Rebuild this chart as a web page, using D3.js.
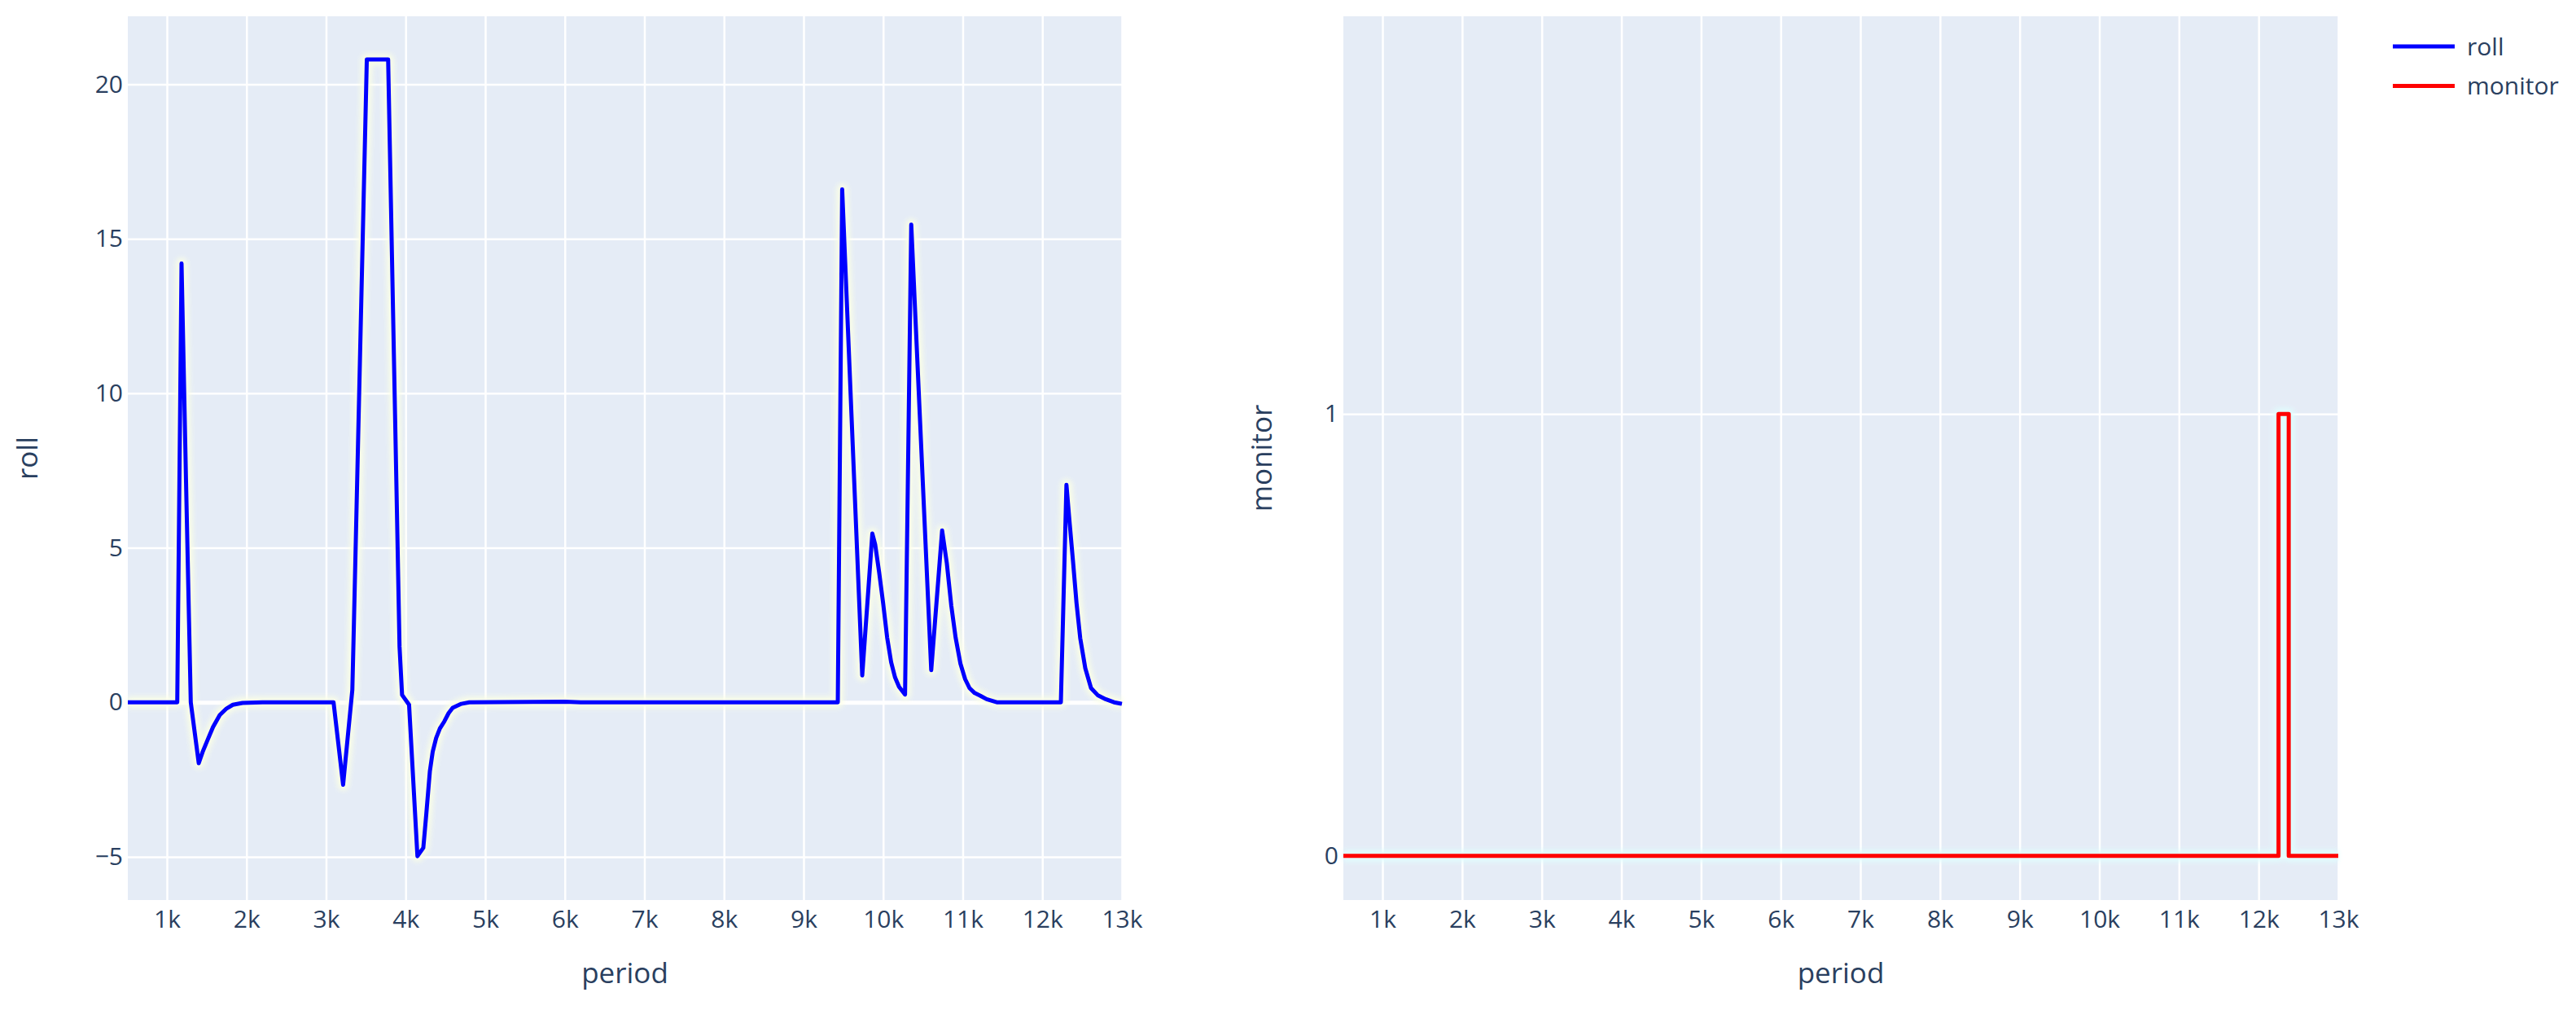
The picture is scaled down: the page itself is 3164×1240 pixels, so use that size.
<!DOCTYPE html>
<html>
<head>
<meta charset="utf-8">
<script src="https://cdn.jsdelivr.net/npm/d3@7"></script>
<style>
  body { margin: 0; background: #fff; }
  text { font-family: "Open Sans", sans-serif; fill: #2a3f5f; }
</style>
</head>
<body>
<div id="chart"></div>
<script>
const rollPeriod = [509, 1130, 1184, 1240, 1300, 1400, 1450, 1503, 1580, 1665, 1750, 1829, 1950, 2200,
  3094, 3214, 3330, 3345, 3512, 3780, 3885, 3923, 3955, 4043, 4148, 4222, 4260, 4304, 4340, 4383, 4430, 4486,
  4540, 4591, 4700, 4800, 6000, 6200,
  9430, 9485, 9737, 9864, 9900, 9950, 10000, 10050, 10100, 10150, 10200, 10275,
  10353, 10604, 10741, 10800, 10856, 10910, 10971, 11030, 11085, 11150, 11222, 11300, 11427,
  12233, 12303, 12340, 12385, 12430, 12476, 12540, 12612, 12700, 12796, 12900, 12980, 13000];
const rollValue = [0, 0, 14.2, 7.2, 0, -1.97, -1.6, -1.27, -0.8, -0.41, -0.2, -0.08, -0.02, 0,
  0, -2.67, 0.4, 2.0, 20.8, 20.8, 6.9, 1.8, 0.24, -0.08, -4.98, -4.71, -3.6, -2.24, -1.6, -1.16, -0.85, -0.62,
  -0.35, -0.18, -0.05, 0, 0.02, 0,
  0, 16.6, 0.87, 5.46, 5.1, 4.2, 3.2, 2.1, 1.3, 0.8, 0.5, 0.25,
  15.46, 1.04, 5.56, 4.5, 3.13, 2.1, 1.25, 0.75, 0.46, 0.3, 0.21, 0.1, 0,
  0, 7.04, 5.9, 4.58, 3.2, 2.08, 1.1, 0.46, 0.22, 0.1, 0, -0.04, -0.05];

const monitorPeriod = [509, 12250, 12378, 13000];
const monitorValue = [0, 1, 0, 0];

const xTicks = [1000, 2000, 3000, 4000, 5000, 6000, 7000, 8000, 9000, 10000, 11000, 12000, 13000];
const rollTicks = [-5, 0, 5, 10, 15, 20];
const monitorTicks = [0, 1];
const rollRange = [-6.4, 22.2];
const monitorRange = [-0.1, 1.9];

const width = 3164;
const height = 1240;
const plotTop = 20, plotBottom = 1105;

const svg = d3.select("#chart").append("svg")
  .attr("width", width)
  .attr("height", height);

const defs = svg.append("defs");
defs.append("filter").attr("id", "glow")
  .attr("x", "-10%").attr("y", "-10%").attr("width", "120%").attr("height", "120%")
  .append("feGaussianBlur").attr("stdDeviation", 3);

const drawPanel = (opts) => {
  const { x0, x1, period, values, yRange, yTicks, color, glowColor, curve, yTitle, yTitleX } = opts;
  const x = d3.scaleLinear().domain(d3.extent(period)).range([x0, x1]);
  const y = d3.scaleLinear().domain(yRange).range([plotBottom, plotTop]);
  const g = svg.append("g");

  g.append("rect")
    .attr("x", x0).attr("y", plotTop)
    .attr("width", x1 - x0).attr("height", plotBottom - plotTop)
    .attr("fill", "#e5ecf6");

  g.append("g")
    .attr("transform", `translate(0,${plotBottom})`)
    .call(d3.axisBottom(x).tickValues(xTicks).tickSize(-(plotBottom - plotTop)).tickFormat(d => d / 1000 + "k").tickPadding(13))
    .call(a => a.select(".domain").remove())
    .call(a => a.selectAll("line").attr("stroke", "#fff").attr("stroke-width", 2.5))
    .call(a => a.selectAll("text").attr("font-size", 30).attr("fill", "#2a3f5f"));

  g.append("g")
    .attr("transform", `translate(${x0},0)`)
    .call(d3.axisLeft(y).tickValues(yTicks).tickSize(-(x1 - x0)).tickFormat(d3.format("d")).tickPadding(6))
    .call(a => a.select(".domain").remove())
    .call(a => a.selectAll("line").attr("stroke", "#fff").attr("stroke-width", d => d === 0 ? 5 : 2.5))
    .call(a => a.selectAll("text").attr("font-size", 30).attr("fill", "#2a3f5f"));

  const line = d3.line()
    .x((d, i) => x(period[i]))
    .y(d => y(d))
    .curve(curve);

  g.append("path")
    .datum(values)
    .attr("d", line)
    .attr("fill", "none")
    .attr("stroke", glowColor)
    .attr("stroke-width", 14)
    .attr("stroke-linejoin", "round")
    .attr("opacity", 0.9)
    .attr("filter", "url(#glow)");

  g.append("path")
    .datum(values)
    .attr("d", line)
    .attr("fill", "none")
    .attr("stroke", color)
    .attr("stroke-width", 5)
    .attr("stroke-linejoin", "round");

  g.append("text")
    .attr("transform", `translate(${yTitleX},${(plotTop + plotBottom) / 2}) rotate(-90)`)
    .attr("text-anchor", "middle")
    .attr("font-size", 35)
    .text(yTitle);

  g.append("text")
    .attr("x", (x0 + x1) / 2)
    .attr("y", 1207)
    .attr("text-anchor", "middle")
    .attr("font-size", 35)
    .text("period");
};

drawPanel({
  x0: 157, x1: 1378,
  period: rollPeriod, values: rollValue,
  yRange: rollRange, yTicks: rollTicks,
  color: "#0000ff", glowColor: "#fcffe6",
  curve: d3.curveLinear,
  yTitle: "roll", yTitleX: 46
});

drawPanel({
  x0: 1650, x1: 2872,
  period: monitorPeriod, values: monitorValue,
  yRange: monitorRange, yTicks: monitorTicks,
  color: "#ff0000", glowColor: "#e0ffff",
  curve: d3.curveStepAfter,
  yTitle: "monitor", yTitleX: 1562
});

const legendItems = [
  { name: "roll", color: "#0000ff" },
  { name: "monitor", color: "#ff0000" }
];

const legend = svg.append("g").attr("transform", "translate(2939,57)");
const item = legend.selectAll("g")
  .data(legendItems)
  .join("g")
  .attr("transform", (d, i) => `translate(0,${i * 48.5})`);

item.append("line")
  .attr("x1", 0).attr("x2", 76)
  .attr("stroke", d => d.color)
  .attr("stroke-width", 5);

item.append("text")
  .attr("x", 91)
  .attr("dy", "0.35em")
  .attr("font-size", 30)
  .text(d => d.name);
</script>
</body>
</html>
